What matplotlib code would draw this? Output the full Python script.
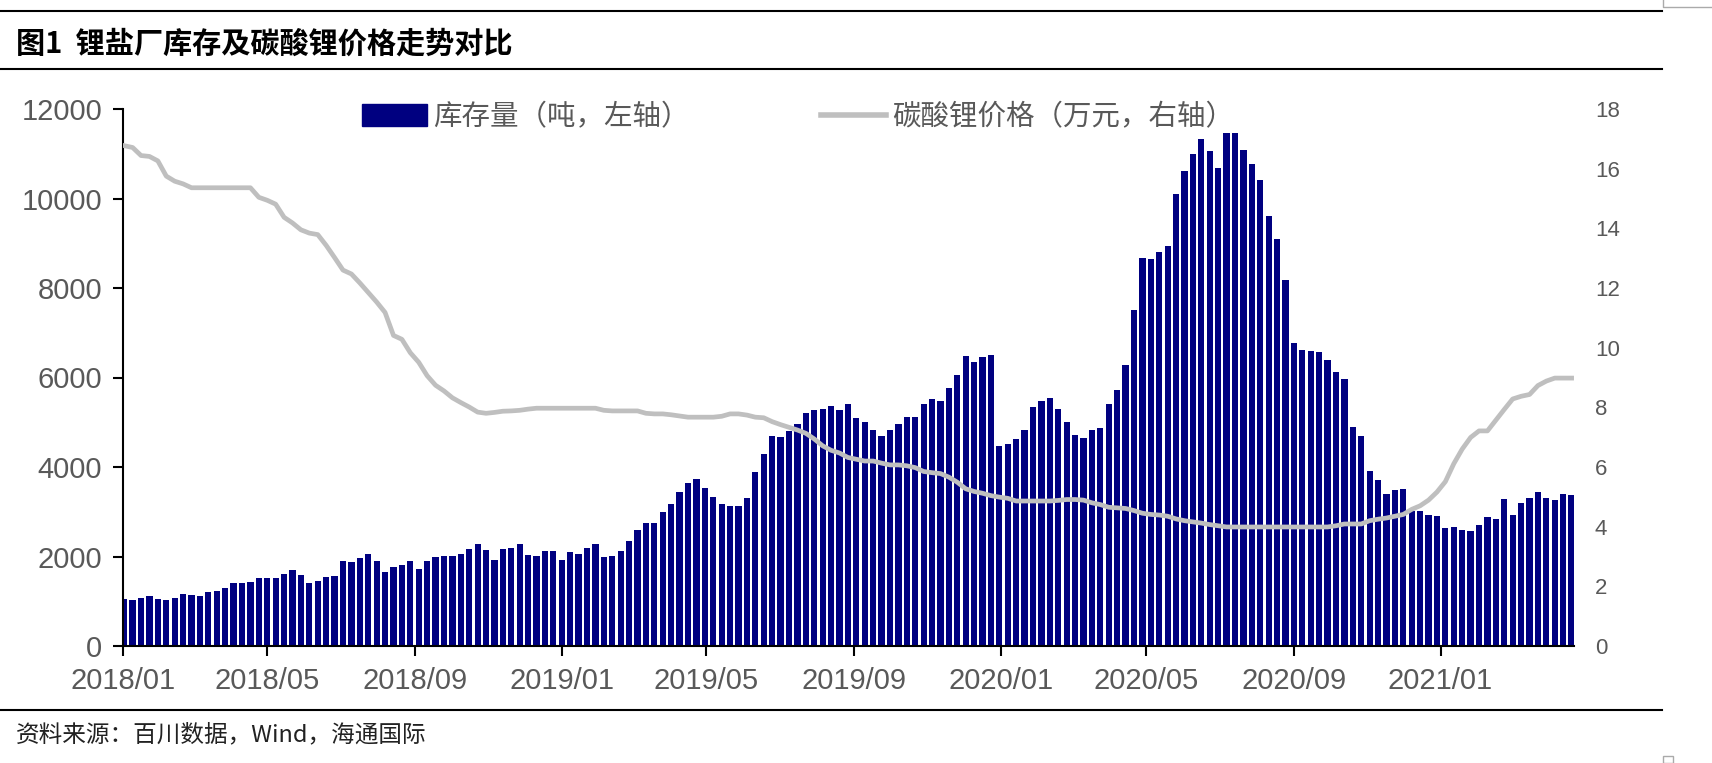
"""
Lithium salt plant inventory vs lithium carbonate price (weekly).
"""

import matplotlib

matplotlib.use("Agg")
import matplotlib.dates as mdates
import matplotlib.pyplot as plt
import pandas as pd
from matplotlib.lines import Line2D
from matplotlib.patches import Rectangle

plt.rcParams["font.family"] = ["Liberation Sans", "Noto Sans CJK SC", "DejaVu Sans"]

CJK = ["Noto Sans CJK SC", "DejaVu Sans"]
NAVY = "#000080"
GREY_LINE = "#BFBFBF"
LABEL_GREY = "#595959"

TITLE = "图1  锂盐厂库存及碳酸锂价格走势对比"
SOURCE = "资料来源：百川数据，Wind，海通国际"
BAR_LABEL = "库存量（吨，左轴）"
LINE_LABEL = "碳酸锂价格（万元，右轴）"

FIRST_WEEK = "2018-01-02"

# weekly inventory, tonnes (left axis)
INVENTORY = [
    1050, 1030, 1070, 1110, 1045, 1030, 1070, 1160, 1140, 1110,
    1200, 1240, 1285, 1415, 1400, 1440, 1525, 1525, 1525, 1610,
    1690, 1585, 1400, 1455, 1540, 1570, 1910, 1870, 1970, 2055,
    1910, 1645, 1775, 1815, 1910, 1730, 1910, 2000, 2015, 2015,
    2055, 2170, 2270, 2140, 1930, 2170, 2200, 2290, 2040, 2015,
    2115, 2115, 1930, 2100, 2055, 2185, 2270, 1990, 2015, 2125,
    2355, 2595, 2740, 2740, 3000, 3170, 3445, 3640, 3730, 3530,
    3340, 3170, 3130, 3130, 3300, 3880, 4285, 4690, 4670, 4800,
    4970, 5200, 5270, 5295, 5355, 5270, 5400, 5100, 5000, 4825,
    4690, 4825, 4970, 5115, 5115, 5400, 5510, 5485, 5770, 6060,
    6470, 6340, 6450, 6510, 4480, 4525, 4630, 4825, 5340, 5485,
    5545, 5300, 5000, 4710, 4645, 4830, 4875, 5410, 5710, 6290,
    7510, 8670, 8650, 8805, 8935, 10110, 10610, 10990, 11340, 11070,
    10690, 11460, 11460, 11080, 10770, 10410, 9620, 9100, 8180, 6765,
    6610, 6585, 6565, 6395, 6120, 5965, 4900, 4695, 3905, 3715,
    3400, 3475, 3500, 3015, 3015, 2920, 2900, 2645, 2660, 2600,
    2575, 2705, 2875, 2840, 3290, 2920, 3185, 3305, 3435, 3315,
    3270, 3400, 3375,
]

# lithium carbonate price, 10k yuan (right axis)
PRICE = [
    16.77, 16.71, 16.44, 16.41, 16.26, 15.75, 15.58, 15.49, 15.36, 15.36,
    15.36, 15.36, 15.36, 15.36, 15.36, 15.36, 15.04, 14.94, 14.81, 14.37,
    14.18, 13.95, 13.84, 13.79, 13.43, 13.02, 12.60, 12.47, 12.17, 11.85,
    11.53, 11.18, 10.41, 10.28, 9.83, 9.51, 9.06, 8.74, 8.55, 8.32,
    8.16, 8.01, 7.84, 7.80, 7.83, 7.87, 7.88, 7.90, 7.94, 7.97,
    7.97, 7.97, 7.97, 7.97, 7.97, 7.97, 7.97, 7.90, 7.88, 7.88,
    7.88, 7.88, 7.80, 7.78, 7.78, 7.75, 7.71, 7.67, 7.67, 7.67,
    7.67, 7.70, 7.78, 7.78, 7.74, 7.67, 7.65, 7.52, 7.42, 7.33,
    7.24, 7.13, 6.94, 6.71, 6.56, 6.47, 6.32, 6.26, 6.20, 6.20,
    6.13, 6.07, 6.07, 6.04, 5.98, 5.85, 5.81, 5.78, 5.66, 5.49,
    5.27, 5.18, 5.12, 5.04, 4.99, 4.95, 4.86, 4.86, 4.86, 4.86,
    4.86, 4.88, 4.91, 4.91, 4.89, 4.80, 4.74, 4.65, 4.63, 4.61,
    4.54, 4.45, 4.41, 4.39, 4.35, 4.26, 4.20, 4.16, 4.12, 4.07,
    4.03, 3.99, 3.99, 3.99, 3.99, 3.99, 3.99, 3.99, 3.99, 3.99,
    3.99, 3.99, 3.99, 3.99, 4.03, 4.09, 4.09, 4.09, 4.20, 4.25,
    4.29, 4.35, 4.41, 4.58, 4.70, 4.89, 5.16, 5.51, 6.11, 6.60,
    6.99, 7.21, 7.21, 7.57, 7.93, 8.28, 8.37, 8.43, 8.73, 8.88,
    8.98, 8.98, 8.98,
]

LEFT_TICKS = [0, 2000, 4000, 6000, 8000, 10000, 12000]
RIGHT_TICKS = [0, 2, 4, 6, 8, 10, 12, 14, 16, 18]

W, H = 1712, 763


def fx(px):
    return px / W


def fy(px):
    return 1 - px / H


weeks = pd.date_range(FIRST_WEEK, periods=len(INVENTORY), freq="7D")

fig = plt.figure(figsize=(W / 100, H / 100), dpi=100)
ax = fig.add_axes([fx(123), fy(646), fx(1574 - 123), (646 - 109) / H])

ax.bar(weeks, INVENTORY, width=5.2, color=NAVY, zorder=2)
ax.set_ylim(0, 12000)
ax.set_yticks(LEFT_TICKS)
ax.set_xlim(pd.Timestamp("2018-01-01"), pd.Timestamp("2021-04-22"))
ax.xaxis.set_major_locator(mdates.MonthLocator(bymonth=[1, 5, 9]))
ax.xaxis.set_major_formatter(mdates.DateFormatter("%Y/%m"))
for side in ("top", "right"):
    ax.spines[side].set_visible(False)
for side in ("left", "bottom"):
    ax.spines[side].set_linewidth(1.5)
ax.tick_params(axis="both", direction="out", length=7, width=1.5,
               labelsize=21, labelcolor=LABEL_GREY)
ax.tick_params(axis="x", pad=8)
ax.tick_params(axis="y", pad=8)
ax.grid(False)

ax2 = ax.twinx()
ax2.plot(weeks, PRICE, color=GREY_LINE, lw=3.4, solid_joinstyle="round")
ax2.set_ylim(0, 18)
ax2.set_yticks(RIGHT_TICKS)
for side in ("top", "right", "left", "bottom"):
    ax2.spines[side].set_visible(False)
ax2.tick_params(axis="y", length=0, labelsize=16, labelcolor=LABEL_GREY, pad=15)

handles = [
    Rectangle((0, 0), 1, 1, facecolor=NAVY, edgecolor=NAVY),
    Line2D([0], [0], color=GREY_LINE, lw=4),
]
ax2.legend(
    handles, [BAR_LABEL, LINE_LABEL],
    loc="center left", bbox_to_anchor=(fx(362), fy(117)),
    bbox_transform=fig.transFigure, ncol=2, frameon=False,
    borderpad=0, borderaxespad=0, handlelength=2.3, handleheight=0.8,
    handletextpad=0.2, columnspacing=4.6,
    prop={"family": CJK, "size": 20.5}, labelcolor=LABEL_GREY,
)

# page furniture: rules, title, source
for y in (11, 69, 710):
    fig.add_artist(Line2D([0, fx(1662)], [fy(y), fy(y)], color="black", lw=1.5))
fig.text(fx(16), fy(44), TITLE, fontsize=21, fontweight="bold",
         va="center", ha="left", family=CJK, color="black")
fig.text(fx(16), fy(735), SOURCE, fontsize=17, va="center", ha="left",
         family=CJK, color="#222222")

fig.add_artist(Line2D([fx(1663), fx(1663), fx(1712)], [fy(0), fy(7), fy(7)],
                      color="#AAAAAA", lw=1))
fig.add_artist(Rectangle((fx(1663), fy(763)), fx(10), 7 / H, fill=False,
                         edgecolor="#AAAAAA", lw=1, transform=fig.transFigure))

fig.savefig("out.png", dpi=100)
plt.close(fig)
